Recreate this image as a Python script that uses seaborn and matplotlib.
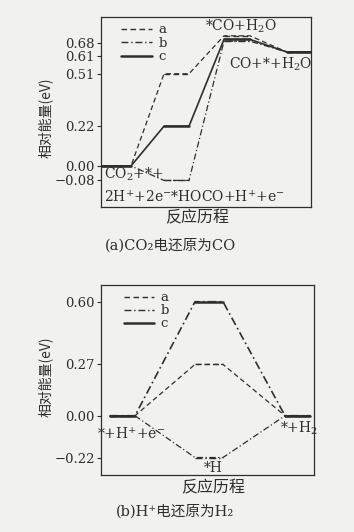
import numpy as np
import pandas as pd
import matplotlib
matplotlib.use("Agg")
import matplotlib.pyplot as plt
import seaborn as sns
from matplotlib.lines import Line2D

sns.set_theme(style="white")
plt.rcParams['font.family'] = ['DejaVu Serif', 'Noto Sans CJK SC']
plt.rcParams['mathtext.fontset'] = 'dejavuserif'

# ---------------- data ----------------
series = ['a', 'b', 'c']
# (a) CO2 -> CO : energy of each state
co2_states = ['CO2+*+2H+2e', '*HOCO+H+e', '*CO+H2O', 'CO+*+H2O']
co2_a = [0.00, 0.51, 0.72, 0.63]
co2_b = [0.00, -0.08, 0.69, 0.63]
co2_c = [0.00, 0.22, 0.70, 0.63]
co2_ticks = [0.68, 0.61, 0.51, 0.22, 0.00, -0.08]
co2_ticklabels = ['0.68', '0.61', '0.51', '0.22', '0.00', '\u22120.08']

# (b) H+ -> H2
h_states = ['*+H+e', '*H', '*+H2']
h_a = [0.00, 0.27, 0.00]
h_b = [0.00, -0.22, 0.00]
h_c = [0.00, 0.60, 0.00]
h_ticks = [0.60, 0.27, 0.00, -0.22]
h_ticklabels = ['0.60', '0.27', '0.00', '\u22120.22']

# layout: horizontal extents of each state level (axis units)
co2_lvl_start = [0, 63, 123, 186]
co2_lvl_end = [30, 88, 149, 210]
h_lvl_start = [9, 94, 184]
h_lvl_end = [34, 122, 209]

ink = '#2e2e2e'
paper = '#f1f1ed'
styles = {'a': (0, (4, 2.5)), 'b': (0, (5, 2, 1, 2)), 'c': '-'}
cjk = ['Noto Sans CJK SC', 'DejaVu Sans']
serif_cjk = ['DejaVu Serif', 'Noto Sans CJK SC']

fig = plt.figure(figsize=(3.54, 5.32), dpi=100, facecolor=paper)

def draw(ax, values, starts, ends, conn_style_c_dashdot):
    rows = []
    for s, vals in zip(series, values):
        xs, ys = [], []
        for v, x0, x1 in zip(vals, starts, ends):
            xs += [x0, x1]
            ys += [v, v]
        for i, (x, y) in enumerate(zip(xs, ys)):
            rows.append(dict(series=s, x=x, y=y, order=i))
    df = pd.DataFrame(rows)
    for s in series:
        d = df[df.series == s].sort_values('order')
        ls = styles[s]
        cls = ls
        if s == 'c' and conn_style_c_dashdot:
            cls = styles['b']
        sns.lineplot(data=d, x='x', y='y', sort=False, estimator=None, ax=ax,
                     color=ink, linestyle=cls, lw=0.9 if s != 'c' else 1.2)
        for k in range(0, len(d), 2):
            seg = d.iloc[k:k + 2]
            lw = 1.8 if s == 'c' else 1.0
            sns.lineplot(data=seg, x='x', y='y', sort=False, estimator=None, ax=ax,
                         color=ink, linestyle=ls, lw=lw)
    for k in [0, len(starts) - 1]:
        sns.lineplot(x=[starts[k], ends[k]], y=[values[2][k], values[2][k]], ax=ax,
                     color=ink, lw=1.3, estimator=None, sort=False)

def style_axes(ax, ticks, labels, xlim, ylim):
    ax.set_facecolor(paper)
    ax.set_xlim(*xlim)
    ax.set_ylim(*ylim)
    ax.set_xticks([])
    ax.set_yticks(ticks)
    ax.set_yticklabels(labels, fontsize=9.5, color=ink)
    ax.tick_params(axis='y', direction='out', length=3, width=0.8, color=ink, pad=1.5, left=True)
    for sp in ax.spines.values():
        sp.set_color(ink)
        sp.set_linewidth(0.9)
    ax.set_xlabel('')
    ax.set_ylabel('')
    handles = [Line2D([], [], color=ink, linestyle=styles[s], lw=1.8 if s == 'c' else 1.0)
               for s in series]
    return handles

# ---------- panel (a) ----------
ax1 = fig.add_axes([101 / 354, 1 - 207 / 532, 210 / 354, 190 / 532])
draw(ax1, [co2_a, co2_b, co2_c], co2_lvl_start, co2_lvl_end, False)
h1 = style_axes(ax1, co2_ticks, co2_ticklabels, (0, 210), (-0.227, 0.824))
ax1.legend(h1, series, loc='upper left', bbox_to_anchor=(0.04, 1.03), frameon=False,
           fontsize=9.5, handlelength=2.3, handletextpad=0.5, labelspacing=0.05,
           labelcolor=ink)
ax1.text(140, 0.775, '*CO+H$_2$O', fontsize=10, color=ink, ha='center', va='center')
ax1.text(170, 0.565, 'CO+*+H$_2$O', fontsize=10, color=ink, ha='center', va='center')
ax1.text(3, -0.045, 'CO$_2$+*+', fontsize=10, color=ink, ha='left', va='center')
ax1.text(3, -0.17, '2H$^{+}$+2e$^{-}$*HOCO+H$^{+}$+e$^{-}$', fontsize=10, color=ink,
         ha='left', va='center')
fig.text(45 / 354, 1 - 118 / 532, '相对能量(eV)', rotation=90, ha='center', va='center',
         fontsize=10, color=ink, family=cjk)
fig.text(197 / 354, 1 - 218 / 532, '反应历程', ha='center', va='center', fontsize=11.5,
         color=ink, family=cjk)
fig.text(170 / 354, 1 - 245 / 532, '(a)CO\u2082电还原为CO', ha='center', va='center',
         fontsize=10.5, color=ink, family=serif_cjk)

# ---------- panel (b) ----------
ax2 = fig.add_axes([101 / 354, 1 - 475 / 532, 213 / 354, 190 / 532])
draw(ax2, [h_a, h_b, h_c], h_lvl_start, h_lvl_end, True)
h2 = style_axes(ax2, h_ticks, h_ticklabels, (0, 213), (-0.312, 0.688))
ax2.legend(h2, series, loc='upper left', bbox_to_anchor=(0.05, 1.03), frameon=False,
           fontsize=9.5, handlelength=2.3, handletextpad=0.5, labelspacing=0.0,
           labelcolor=ink)
ax2.text(30, -0.095, '*+H$^{+}$+e$^{-}$', fontsize=10, color=ink, ha='center', va='center')
ax2.text(112, -0.275, '*H', fontsize=10, color=ink, ha='center', va='center')
ax2.text(198, -0.065, '*+H$_2$', fontsize=10, color=ink, ha='center', va='center')
fig.text(45 / 354, 1 - 377 / 532, '相对能量(eV)', rotation=90, ha='center', va='center',
         fontsize=10, color=ink, family=cjk)
fig.text(213 / 354, 1 - 488 / 532, '反应历程', ha='center', va='center', fontsize=11.5,
         color=ink, family=cjk)
fig.text(175 / 354, 1 - 511 / 532, '(b)H\u207a电还原为H\u2082', ha='center', va='center',
         fontsize=10.5, color=ink, family=serif_cjk)

fig.savefig('out.png', dpi=100, facecolor=paper)
